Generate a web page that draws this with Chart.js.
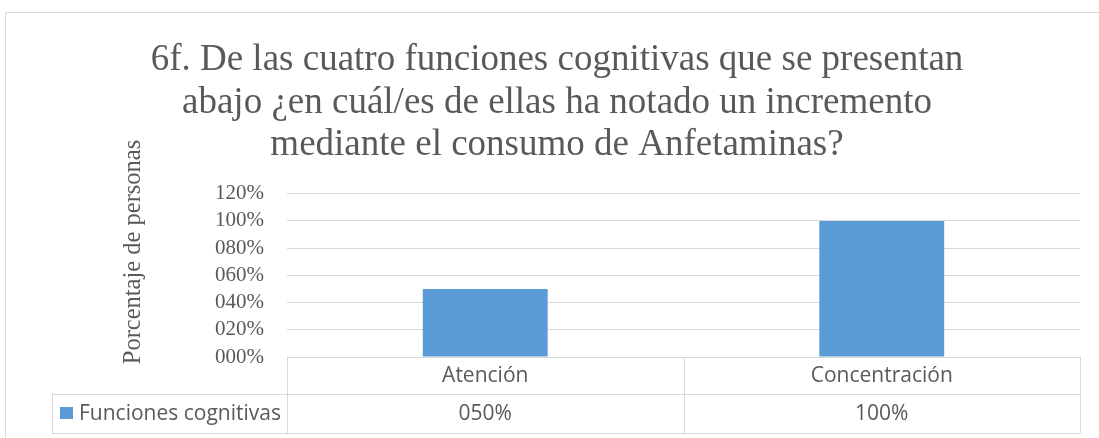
<!DOCTYPE html>
<html>
<head>
<meta charset="utf-8">
<title>6f. Funciones cognitivas</title>
<script src="https://cdn.jsdelivr.net/npm/chart.js"></script>
<style>
  body { margin: 0; background: #fff; }
  canvas { display: block; }
</style>
</head>
<body>
<canvas id="myChartBar" width="1099" height="438"></canvas>
<script>
// data
const categories = ['Atención', 'Concentración'];
const seriesName = 'Funciones cognitivas';
const values = [0.5, 1.0];
const yTicks = [0, 0.2, 0.4, 0.6, 0.8, 1.0, 1.2];
const titleLines = [
  '6f. De las cuatro funciones cognitivas que se presentan',
  'abajo ¿en cuál/es de ellas ha notado un incremento',
  'mediante el consumo de Anfetaminas?'
];
const yTitle = 'Porcentaje de personas';

const serif = '"Liberation Serif", "Times New Roman", serif';
const sans = '"Open Sans", "Liberation Sans", sans-serif';
const textColor = '#595959';
const lineColor = '#d9d9d9';
const barColor = '#5b9bd5';

// 0.5 -> "050%"
const pct = v => String(Math.round(v * 100)).padStart(3, '0') + '%';

// outer frame of the excel chart
const framePlugin = {
  id: 'frame',
  beforeDraw(chart) {
    const ctx = chart.ctx;
    ctx.save();
    ctx.strokeStyle = lineColor;
    ctx.lineWidth = 1;
    ctx.beginPath();
    ctx.moveTo(5.5, 438);
    ctx.lineTo(5.5, 12.5);
    ctx.lineTo(1099, 12.5);
    ctx.stroke();
    ctx.restore();
  }
};

// rotated axis title, sits higher than the plot centre like in the original
const yTitlePlugin = {
  id: 'yTitle',
  afterDraw(chart) {
    const ctx = chart.ctx;
    ctx.save();
    ctx.translate(134, 252);
    ctx.rotate(-Math.PI / 2);
    ctx.font = '24.5px ' + serif;
    ctx.fillStyle = textColor;
    ctx.textAlign = 'center';
    ctx.textBaseline = 'middle';
    ctx.fillText(yTitle, 0, 0);
    ctx.restore();
  }
};

// data table under the plot
const dataTablePlugin = {
  id: 'dataTable',
  afterDraw(chart) {
    const ctx = chart.ctx;
    const area = chart.chartArea;
    const x = chart.scales.x;
    const top = area.bottom;
    const mid = top + 37;
    const bottom = mid + 39;
    const labelLeft = 52;

    ctx.save();
    ctx.strokeStyle = lineColor;
    ctx.lineWidth = 1;
    ctx.beginPath();
    ctx.moveTo(area.left, top + 0.5); ctx.lineTo(area.right, top + 0.5);
    ctx.moveTo(labelLeft, mid + 0.5); ctx.lineTo(area.right, mid + 0.5);
    ctx.moveTo(labelLeft, bottom + 0.5); ctx.lineTo(area.right, bottom + 0.5);
    ctx.moveTo(labelLeft + 0.5, mid); ctx.lineTo(labelLeft + 0.5, bottom);
    ctx.moveTo(Math.round(area.left) + 0.5, top); ctx.lineTo(Math.round(area.left) + 0.5, bottom);
    ctx.moveTo(Math.round(area.right) + 0.5, top); ctx.lineTo(Math.round(area.right) + 0.5, bottom);
    for (let i = 1; i < categories.length; i++) {
      const xs = Math.round((x.getPixelForValue(i - 1) + x.getPixelForValue(i)) / 2) + 0.5;
      ctx.moveTo(xs, top); ctx.lineTo(xs, bottom);
    }
    ctx.stroke();

    ctx.font = '21px ' + sans;
    ctx.fillStyle = textColor;
    ctx.textBaseline = 'middle';
    ctx.textAlign = 'center';
    categories.forEach((c, i) => {
      const cx = x.getPixelForValue(i);
      ctx.fillText(c, cx, (top + mid) / 2 + 1);
      ctx.fillText(pct(values[i]), cx, (mid + bottom) / 2 + 1);
    });

    // legend key + series name
    ctx.fillStyle = barColor;
    ctx.fillRect(60, 407, 13, 12);
    ctx.fillStyle = textColor;
    ctx.textAlign = 'left';
    ctx.fillText(seriesName, 79, (mid + bottom) / 2 + 1);
    ctx.restore();
  }
};

const ctxBar = document.getElementById('myChartBar').getContext('2d');
const myChartBar = new Chart(ctxBar, {
  type: 'bar',
  data: {
    labels: categories,
    datasets: [{
      label: seriesName,
      data: values,
      backgroundColor: barColor,
      borderWidth: 0,
      categoryPercentage: 1,
      barPercentage: 0.315
    }]
  },
  options: {
    responsive: false,
    animation: false,
    layout: {
      padding: { left: 34, right: 19, top: 0, bottom: 81 }
    },
    plugins: {
      legend: { display: false },
      tooltip: { enabled: false },
      title: {
        display: true,
        text: titleLines,
        color: textColor,
        font: { family: serif, size: 37, weight: 'normal', lineHeight: 1.15 },
        padding: { top: 39, bottom: 27 }
      }
    },
    scales: {
      x: {
        display: false
      },
      y: {
        min: 0,
        max: 1.2,
        afterBuildTicks(scale) {
          scale.ticks = yTicks.map(v => ({ value: v }));
        },
        afterFit(scale) {
          scale.width = 253;
        },
        border: { display: false },
        grid: { color: lineColor, drawTicks: false },
        ticks: {
          autoSkip: false,
          padding: 23,
          color: textColor,
          font: { family: serif, size: 21 },
          callback: v => pct(v)
        }
      }
    }
  },
  plugins: [framePlugin, yTitlePlugin, dataTablePlugin]
});
</script>
</body>
</html>
